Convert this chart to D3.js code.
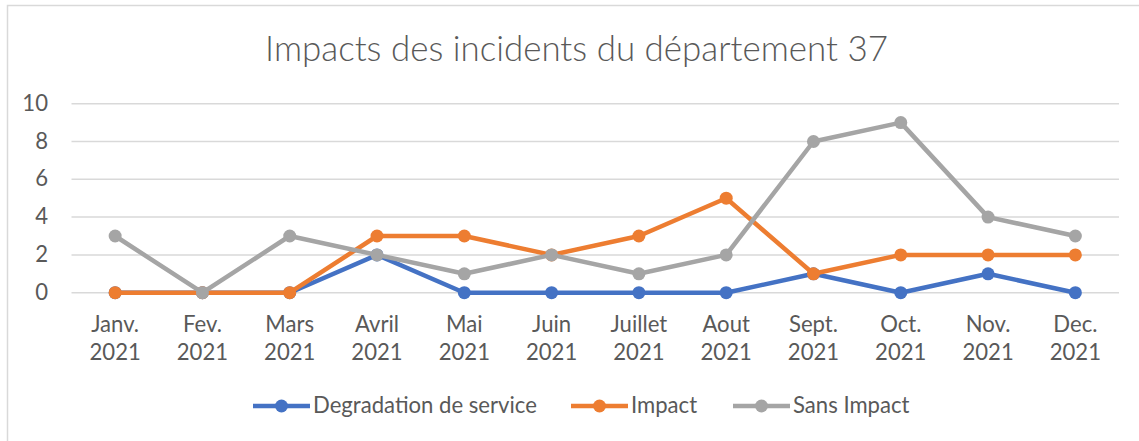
<!DOCTYPE html>
<html><head><meta charset="utf-8">
<script src="https://cdn.jsdelivr.net/npm/d3@7"></script>
<style>body{margin:0;background:#fff}svg{display:block}</style>
</head><body>
<svg id="c" width="1139" height="441"></svg>
<script>
const categories = [["Janv.","2021"],["Fev.","2021"],["Mars","2021"],["Avril","2021"],["Mai","2021"],["Juin","2021"],["Juillet","2021"],["Aout","2021"],["Sept.","2021"],["Oct.","2021"],["Nov.","2021"],["Dec.","2021"]];
const seriesNames = ["Degradation de service","Impact","Sans Impact"];
const degradation = [0,0,0,2,0,0,0,0,1,0,1,0];
const impact = [0,0,0,3,3,2,3,5,1,2,2,2];
const sansImpact = [3,0,3,2,1,2,1,2,8,9,4,3];
const yTicks = [0,2,4,6,8,10];
const colors = ["#4472C4","#ED7D31","#A5A5A5"];
const title = "Impacts des incidents du département 37";

const svg = d3.select("#c");
const font = "Lato, sans-serif";

function fitSize(text, target, base, weight){
  const t = svg.append("text").attr("font-family",font).attr("font-weight",weight||400).attr("font-size",base).text(text);
  const w = t.node().getComputedTextLength();
  t.remove();
  return base*target/w;
}
const titleSize = fitSize(title, 623, 30, 300);
const labelSize = fitSize(seriesNames[0], 224, 20);

svg.append("rect").attr("x",7.5).attr("y",5.5).attr("width",1140).attr("height",450)
  .attr("fill","#fff").attr("stroke","#d9d9d9").attr("stroke-width",1.5);

const x = d3.scaleBand().domain(d3.range(categories.length)).range([71.5,1119]);
const y = d3.scaleLinear().domain([0,10]).range([292.7,103.7]);
const cx = i => x(i)+x.bandwidth()/2;

svg.append("text").attr("x",576.5).attr("y",61).attr("text-anchor","middle")
  .attr("font-family",font).attr("font-weight",300).attr("font-size",titleSize).attr("fill","#595959").text(title);

const g = svg.append("g");
g.selectAll("line.grid").data(yTicks).join("line").attr("class","grid")
  .attr("x1",71.5).attr("x2",1119).attr("y1",d=>y(d)).attr("y2",d=>y(d))
  .attr("stroke","#d9d9d9").attr("stroke-width",1.5);
g.selectAll("text.yt").data(yTicks).join("text").attr("class","yt")
  .attr("x",48).attr("y",d=>y(d)+7).attr("text-anchor","end")
  .attr("font-family",font).attr("font-size",labelSize).attr("fill","#595959").text(d=>d);

const xl = g.selectAll("text.xt").data(categories).join("text").attr("class","xt")
  .attr("text-anchor","middle").attr("font-family",font).attr("font-size",labelSize).attr("fill","#595959");
xl.append("tspan").attr("x",(d,i)=>cx(i)).attr("y",332).text(d=>d[0]);
xl.append("tspan").attr("x",(d,i)=>cx(i)).attr("y",360).text(d=>d[1]);

const data = [degradation, impact, sansImpact];
const line = d3.line().x((d,i)=>cx(i)).y(d=>y(d));
data.forEach((vals,k)=>{
  g.append("path").datum(vals).attr("d",line).attr("fill","none")
    .attr("stroke",colors[k]).attr("stroke-width",4.5).attr("stroke-linejoin","round");
  g.selectAll("circle.s"+k).data(vals).join("circle").attr("class","s"+k)
    .attr("cx",(d,i)=>cx(i)).attr("cy",d=>y(d)).attr("r",6.5).attr("fill",colors[k]);
});

// legend
const legX = [253,571,733];
const leg = svg.append("g");
seriesNames.forEach((n,k)=>{
  leg.append("line").attr("x1",legX[k]).attr("x2",legX[k]+57).attr("y1",406).attr("y2",406)
    .attr("stroke",colors[k]).attr("stroke-width",4.5);
  leg.append("circle").attr("cx",legX[k]+28.5).attr("cy",406).attr("r",6.5).attr("fill",colors[k]);
  leg.append("text").attr("x",legX[k]+60).attr("y",413).attr("font-family",font)
    .attr("font-size",labelSize).attr("fill","#595959").text(n);
});
</script>
</body></html>
